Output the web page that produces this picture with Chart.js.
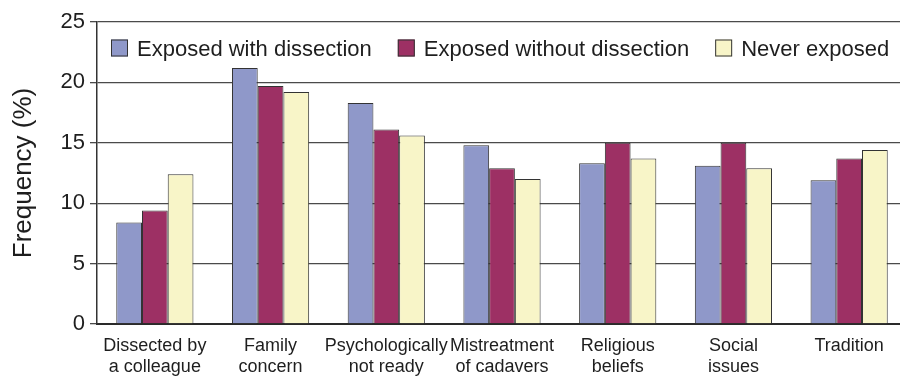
<!DOCTYPE html>
<html>
<head>
<meta charset="utf-8">
<script src="https://cdn.jsdelivr.net/npm/chart.js@4"></script>
<style>
  html, body { margin: 0; padding: 0; background: #fff; overflow: hidden; }
  #wrap { width: 900px; height: 377px; overflow: hidden; }
</style>
</head>
<body>
<div id="wrap"><canvas id="c" width="910" height="377"></canvas></div>
<script>
// Reasons for objection, grouped by exposure to dissection
const categories = [
  ['Dissected by', 'a colleague'],
  ['Family', 'concern'],
  ['Psychologically', 'not ready'],
  ['Mistreatment', 'of cadavers'],
  ['Religious', 'beliefs'],
  ['Social', 'issues'],
  ['Tradition']
];
const seriesNames = ['Exposed with dissection', 'Exposed without dissection', 'Never exposed'];
const exposedWith = [8.4, 21.2, 18.3, 14.8, 13.3, 13.1, 11.9];
const exposedWithout = [9.4, 19.7, 16.1, 12.9, 15.0, 15.0, 13.7];
const neverExposed = [12.4, 19.2, 15.6, 12.0, 13.7, 12.9, 14.4];
const yTicks = [0, 5, 10, 15, 20, 25];

const FONT = '"Liberation Sans", Arial, Helvetica, sans-serif';
const TEXT = '#1e1e1e';
const EDGE = '#333333';
const LINE = '#4a4a4a';
const fills = ['#8f98c9', '#9d3064', '#f8f5c8'];

// Legend laid out in one row inside the top band of the plot
const inlineLegend = {
  id: 'inlineLegend',
  afterDraw(chart) {
    const ctx = chart.ctx;
    const area = chart.chartArea;
    const box = 17;
    let x = area.left + 14;
    const yBase = area.top + 33.5;
    ctx.save();
    ctx.font = '22px ' + FONT;
    ctx.textBaseline = 'alphabetic';
    ctx.textAlign = 'left';
    chart.data.datasets.forEach((ds) => {
      ctx.fillStyle = ds.backgroundColor;
      ctx.fillRect(x, yBase - 16, box, box);
      ctx.strokeStyle = EDGE;
      ctx.lineWidth = 1;
      ctx.strokeRect(x + 0.5, yBase - 15.5, box - 1, box - 1);
      ctx.fillStyle = TEXT;
      ctx.fillText(ds.label, x + 26, yBase);
      x += 26 + ctx.measureText(ds.label).width + 26;
    });
    ctx.restore();
  }
};

const values = [exposedWith, exposedWithout, neverExposed];

new Chart(document.getElementById('c'), {
  type: 'bar',
  data: {
    labels: categories,
    datasets: seriesNames.map((name, i) => ({
      label: name,
      data: values[i],
      backgroundColor: fills[i],
      borderColor: EDGE,
      borderWidth: 1,
      categoryPercentage: 0.667,
      barPercentage: 1.0
    }))
  },
  options: {
    responsive: false,
    devicePixelRatio: 1,
    animation: false,
    layout: { padding: { top: 22, right: 3, bottom: 0, left: 0 } },
    plugins: {
      legend: { display: false },
      tooltip: { enabled: false }
    },
    scales: {
      x: {
        grid: { display: false, drawTicks: false },
        border: { display: true, color: '#2a2a2a', width: 2 },
        ticks: {
          color: TEXT,
          font: { family: FONT, size: 18, lineHeight: 1.2 },
          padding: 11,
          maxRotation: 0,
          autoSkip: false
        },
        afterFit(scale) { scale.height = 53; }
      },
      y: {
        min: 0,
        max: 25,
        afterBuildTicks(scale) { scale.ticks = yTicks.map(v => ({ value: v })); },
        grid: { color: LINE, lineWidth: 1.3, tickLength: 7, drawTicks: true },
        border: { display: true, color: '#333333', width: 1.5 },
        ticks: {
          color: TEXT,
          font: { family: FONT, size: 22 },
          padding: 5
        },
        title: {
          display: true,
          text: 'Frequency (%)',
          color: TEXT,
          font: { family: FONT, size: 26 },
          padding: { top: 8, bottom: 0 }
        },
        afterFit(scale) { scale.width = 97; }
      }
    }
  },
  plugins: [inlineLegend]
});
</script>
</body>
</html>
